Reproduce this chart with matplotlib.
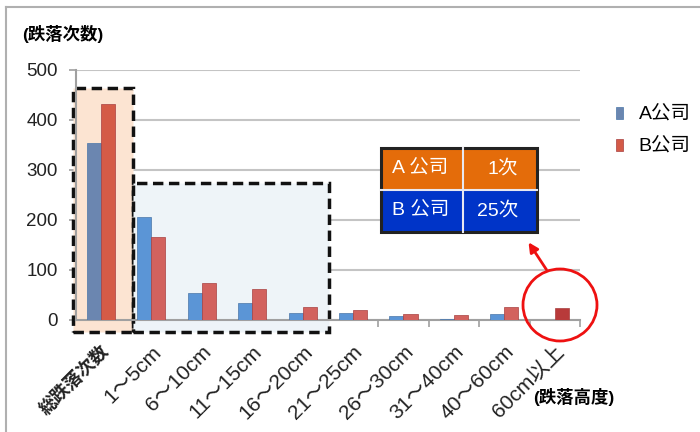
import matplotlib.pyplot as plt
from matplotlib.patches import Rectangle, Ellipse, FancyArrowPatch
import numpy as np

plt.rcParams['font.family'] = ['Liberation Sans', 'Noto Sans CJK JP', 'DejaVu Sans']

categories = ['総跌落次数', '1〜5cm', '6〜10cm', '11〜15cm', '16〜20cm',
              '21〜25cm', '26〜30cm', '31〜40cm', '40〜60cm', '60cm以上']
a_vals = [355, 207, 55, 35, 15, 15, 8, 3, 12, 1]
b_vals = [432, 167, 75, 63, 27, 20, 12, 11, 27, 25]
yticks = [0, 100, 200, 300, 400, 500]
table_rows = [('A 公司', '1次'), ('B 公司', '25次')]

W, H = 700, 432
fig = plt.figure(figsize=(7, 4.32), dpi=100)


def fx(px):
    return px / W


def fy(py):
    return 1 - py / H


ax = fig.add_axes([fx(75.7), fy(320), fx(580) - fx(75.7), fy(70) - fy(320)])

x = np.arange(len(categories))
bw = 0.28
blue = ['#6b86b0'] + ['#5b95d6'] * 9
red = ['#d45b47'] + ['#d2625e'] * 8 + ['#b83a3a']

# background boxes
ax.add_patch(Rectangle((-0.56, -24), 1.2, 488, facecolor='#fce4d2', edgecolor='#111111',
                       lw=2.5, ls=(0, (3, 1.6)), clip_on=False, zorder=1))
ax.add_patch(Rectangle((0.64, -24), 3.88, 298, facecolor='#eef4f8', edgecolor='#111111',
                       lw=2.5, ls=(0, (3, 1.6)), clip_on=False, zorder=1))

ax.bar(x - bw / 2, a_vals, bw, color=blue, edgecolor='#4a76a8', lw=0.5, zorder=3, label='A公司')
ax.bar(x + bw / 2, b_vals, bw, color=red, edgecolor='#a84040', lw=0.5, zorder=3, label='B公司')

ax.set_xlim(-0.5, 9.5)
ax.set_ylim(0, 500)
ax.set_yticks(yticks)
ax.set_yticklabels([str(v) for v in yticks], fontsize=13.5, color='#222222')
ax.yaxis.grid(True, color='#c4c4c4', lw=1.5, zorder=0)
ax.set_axisbelow(True)

ax.set_xticks(x)
ax.set_xticklabels(categories, rotation=45, ha='right', rotation_mode='anchor',
                   fontsize=15, color='#222222')
first = ax.get_xticklabels()[0]
first.set_fontweight('bold')
first.set_fontsize(13)
ax.tick_params(axis='x', length=0, pad=16)
ax.set_xticks(np.arange(0.5, 9.6, 1), minor=True)
ax.tick_params(axis='x', which='minor', length=5, color='#a0a0a0', width=1.2)
ax.tick_params(axis='y', length=5, color='#a0a0a0', width=1.2, pad=8)

for s in ['top', 'right']:
    ax.spines[s].set_visible(False)
for s in ['left', 'bottom']:
    ax.spines[s].set_color('#a0a0a0')
    ax.spines[s].set_linewidth(1.5)

leg = fig.legend(loc='center left', bbox_to_anchor=(fx(598), fy(131)), frameon=False,
                 fontsize=14, handlelength=0.4, handleheight=0.6, handletextpad=0.8,
                 labelspacing=0.75)

fig.text(fx(22), fy(34), '(跌落次数)', fontsize=12.5, fontweight='bold', va='center')
fig.text(fx(533), fy(397), '(跌落高度)', fontsize=12.5, fontweight='bold', va='center')

# table box
tx0, tx1, tdiv = 381, 537, 463
rows_y = [(148, 190), (190, 232)]
fills = ['#e46c0a', '#0034c8']
for (t, b), fc, (c1, c2) in zip(rows_y, fills, table_rows):
    fig.patches.append(Rectangle((fx(tx0), fy(b)), fx(tx1 - tx0), fy(t) - fy(b),
                                 transform=fig.transFigure, facecolor=fc, edgecolor='none'))
    fig.text(fx(392), fy((t + b) / 2), c1, color='white', fontsize=14,
             ha='left', va='center')
    fig.text(fx(518), fy((t + b) / 2), c2, color='white', fontsize=14,
             ha='right', va='center')
fig.lines.append(plt.Line2D([fx(tdiv), fx(tdiv)], [fy(148), fy(232)], color='#e8e8f0',
                            lw=1.5, transform=fig.transFigure))
fig.lines.append(plt.Line2D([fx(tx0), fx(tx1)], [fy(190), fy(190)], color='#e8e8f0',
                            lw=1.5, transform=fig.transFigure))
fig.patches.append(Rectangle((fx(tx0), fy(232)), fx(tx1 - tx0), fy(148) - fy(232),
                             transform=fig.transFigure, facecolor='none',
                             edgecolor='#222222', lw=2.2))

# red circle + arrow
fig.patches.append(Ellipse((fx(560), fy(305)), fx(74), fy(0) - fy(72),
                           transform=fig.transFigure, facecolor='none',
                           edgecolor='#ee1111', lw=2))
fig.patches.append(FancyArrowPatch((fx(548), fy(272)), (fx(527), fy(240)),
                                   transform=fig.transFigure, arrowstyle='-|>',
                                   mutation_scale=14, color='#ee1111', lw=2))

# outer border (left and top)
fig.lines.append(plt.Line2D([fx(6), fx(6)], [0, fy(7)], color='#b0b0b0', lw=1.5,
                            transform=fig.transFigure))
fig.lines.append(plt.Line2D([fx(6), 1], [fy(7), fy(7)], color='#b0b0b0', lw=1.5,
                            transform=fig.transFigure))

fig.savefig('out.png', dpi=100)
